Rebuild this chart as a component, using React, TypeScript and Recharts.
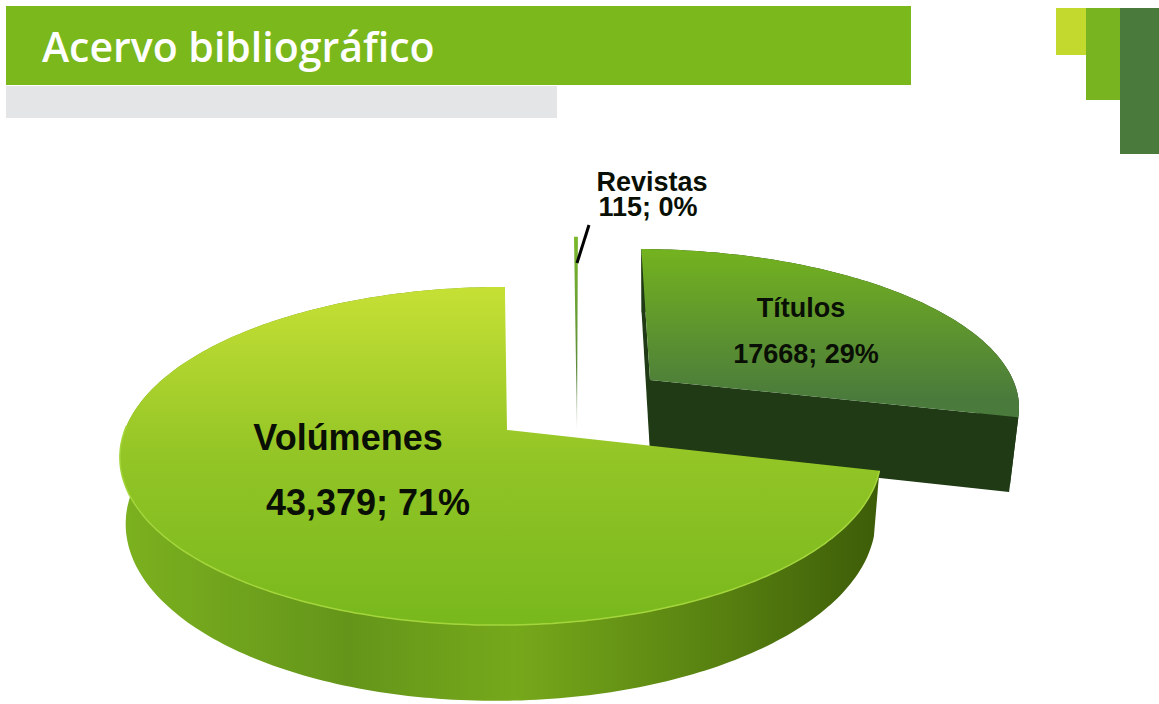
import { Pie, PieChart } from "recharts";

const sliceNames = ["Títulos", "Volúmenes", "Revistas"];
const sliceValues = [17668, 43379, 115];
const valueLabels = ["17668", "43,379", "115"];

const chartData = sliceNames.map((name, i) => ({ name, value: sliceValues[i], shown: valueLabels[i] }));

// fake 3d: every slice is projected with a small perspective, the angles come from the Pie
const PERSPECTIVE_Y = 0.154;
const PERSPECTIVE_X = 0.016;
const looks: Record<string, any> = {
    "Títulos": { dx: 143, dy: -50, rx: 0.981, ry: 0.402, skew: -10, depth: 73, shrink: 0.975, top: "url(#topTitulos)", wall: "#1f3a14", cuts: true },
    "Volúmenes": { dx: 0, dy: 0, rx: 1, ry: 0.439, skew: 2, depth: 64, shrink: 0.985, top: "url(#topVolumenes)", wall: "url(#wallVolumenes)", rim: "#a4d63c" },
    "Revistas": { dx: 70, dy: 0, rx: 1, ry: 0.593, skew: 1, depth: 0, shrink: 1, top: "url(#topRevistas)" },
};
const labelSpots: Record<string, any> = {
    "Títulos": { x: 801, y: 317, y2: 363, size: 27, x2: 806 },
    "Volúmenes": { x: 348, y: 450, y2: 515, size: 36, x2: 368 },
    "Revistas": { x: 652, y: 191, y2: 216, size: 27, x2: 648, pointer: true },
};

function project(props: any, look: any, angle: number) {
    const a = (angle * Math.PI) / 180;
    const u = Math.cos(a);
    const v = Math.sin(a);
    const w = 1 / (1 + PERSPECTIVE_Y * v + PERSPECTIVE_X * u);
    const cx = props.cx + look.dx;
    const cy = props.cy + look.dy;
    return {
        x: cx + (props.outerRadius * look.rx * u + look.skew * v) * w,
        y: cy - props.outerRadius * look.ry * v * w,
        w,
        v,
    };
}

const lower = (p: any, cx: number, look: any) => ({
    x: cx + (p.x - cx) * look.shrink,
    y: p.y + look.depth * p.w,
});

const toPath = (pts: any[]) => pts.map((p, i) => `${i ? "L" : "M"}${p.x.toFixed(1)} ${p.y.toFixed(1)}`).join(" ");

function Slice3D(props: any) {
    const look = looks[props.name];
    const apex = { x: props.cx + look.dx, y: props.cy + look.dy, w: 1 };
    const rim: any[] = [];
    const steps = Math.max(1, Math.ceil(Math.abs(props.endAngle - props.startAngle)));
    for (let i = 0; i <= steps; i++) {
        rim.push(project(props, look, props.startAngle + ((props.endAngle - props.startAngle) * i) / steps));
    }
    const low = rim.map((p) => lower(p, apex.x, look));
    const apexLow = lower(apex, apex.x, look);
    const first = rim[0];
    const last = rim[rim.length - 1];
    return (
        <g>
            {look.depth > 0 && <path d={toPath([...rim, ...[...low].reverse()]) + " Z"} fill={look.wall} />}
            {look.cuts && (
                <>
                    <path d={toPath([first, apex, apexLow, lower(first, apex.x, look)]) + " Z"} fill={look.wall} />
                    <path d={toPath([apex, last, low[low.length - 1], apexLow]) + " Z"} fill={look.wall} />
                </>
            )}
            <path d={toPath([apex, ...rim]) + " Z"} fill={look.top} />
            {look.rim && <path d={toPath(rim.filter((p) => p.v < 0.03))} fill="none" stroke={look.rim} strokeWidth={1.5} />}
        </g>
    );
}

function SliceLabel(props: any) {
    const spot = labelSpots[props.name];
    const pct = Math.round(props.percent * 100);
    return (
        <g fontFamily="'Liberation Sans', Arial, sans-serif" fontWeight={700} fontSize={spot.size} fill="#0a0f05" textAnchor="middle">
            <text x={spot.x} y={spot.y}>{props.name}</text>
            <text x={spot.x2} y={spot.y2}>{`${props.payload.shown}; ${pct}%`}</text>
            {spot.pointer && <line x1={589} y1={225} x2={577} y2={263} stroke="#000" strokeWidth={3} />}
        </g>
    );
}

const blockStyle = (left: number, top: number, width: number, height: number, background: string): React.CSSProperties => ({
    position: "absolute", left, top, width, height, background,
});

export default function App() {
    return (
        <div style={{ position: "absolute", left: 0, top: 0, width: 1159, height: 704, background: "#fff", overflow: "hidden" }}>
            <div style={blockStyle(6, 86, 551, 32, "#e4e5e7")} />
            <div style={blockStyle(6, 6, 905, 79, "#7ab81c")} />
            <div style={{ position: "absolute", left: 42, top: 18, color: "#fff", fontFamily: "'Open Sans', sans-serif", fontWeight: 600, fontSize: 41, lineHeight: "56px", whiteSpace: "nowrap" }}>
                Acervo bibliográfico
            </div>
            <div style={blockStyle(1056, 8, 30, 47, "#c4d92e")} />
            <div style={blockStyle(1086, 8, 34, 92, "#78b41f")} />
            <div style={blockStyle(1120, 8, 39, 146, "#4a7a3c")} />

            <div style={{ position: "absolute", left: 0, top: 0 }}>
                <PieChart width={1159} height={704} margin={{ top: 0, right: 0, bottom: 0, left: 0 }}>
                    <defs>
                        <linearGradient id="topVolumenes" gradientUnits="userSpaceOnUse" x1="0" y1="287" x2="0" y2="625">
                            <stop offset="0%" stopColor="#c6e035" />
                            <stop offset="50%" stopColor="#93c526" />
                            <stop offset="100%" stopColor="#78b81d" />
                        </linearGradient>
                        <linearGradient id="wallVolumenes" gradientUnits="userSpaceOnUse" x1="120" y1="0" x2="880" y2="0">
                            <stop offset="0%" stopColor="#7cb11f" />
                            <stop offset="30%" stopColor="#64951a" />
                            <stop offset="52%" stopColor="#76a81b" />
                            <stop offset="80%" stopColor="#567f10" />
                            <stop offset="100%" stopColor="#3d5c08" />
                        </linearGradient>
                        <linearGradient id="topTitulos" gradientUnits="userSpaceOnUse" x1="0" y1="249" x2="0" y2="400">
                            <stop offset="0%" stopColor="#74b31f" />
                            <stop offset="100%" stopColor="#4a7a3c" />
                        </linearGradient>
                        <linearGradient id="topRevistas" gradientUnits="userSpaceOnUse" x1="0" y1="237" x2="0" y2="430">
                            <stop offset="0%" stopColor="#7ab82a" />
                            <stop offset="70%" stopColor="#5c8a3a" />
                            <stop offset="100%" stopColor="#b0b8a8" />
                        </linearGradient>
                    </defs>
                    <Pie
                        data={chartData}
                        dataKey="value"
                        nameKey="name"
                        cx={507}
                        cy={430}
                        outerRadius={376}
                        startAngle={90}
                        endAngle={-270}
                        stroke="none"
                        shape={Slice3D}
                        label={SliceLabel}
                        labelLine={false}
                        isAnimationActive={false}
                    />
                </PieChart>
            </div>
        </div>
    );
}
